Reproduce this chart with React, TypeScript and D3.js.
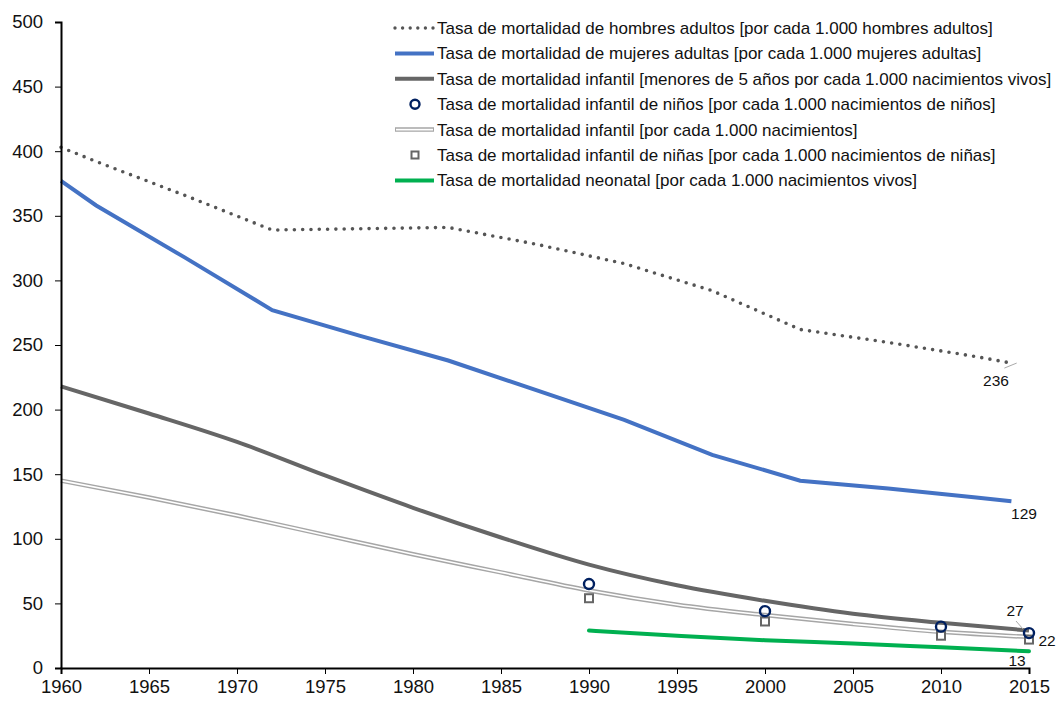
import React, { useEffect, useRef } from "react";
import * as d3 from "d3";

type Pt = [number, number];

const maleAdult: Pt[] = [[1960,403],[1962,392],[1967,366],[1972,339],[1977,340],[1982,341],[1987,328],[1992,313],[1997,292],[2002,262],[2007,252],[2012,241],[2014,236]];
const femaleAdult: Pt[] = [[1960,377],[1962,358],[1967,318],[1972,277],[1977,257],[1982,238],[1987,215],[1992,192],[1997,165],[2002,145],[2007,139],[2012,132],[2014,129]];
const underFive: Pt[] = [[1960,218],[1965,197],[1970,175],[1975,149],[1980,124],[1985,101],[1990,80],[1995,64],[2000,52],[2005,42],[2010,35],[2015,29]];
const infant: Pt[] = [[1960,145],[1965,132],[1970,118],[1975,103],[1980,88],[1985,74],[1990,60],[1995,49],[2000,41],[2005,34],[2010,28],[2015,24]];
const neonatal: Pt[] = [[1990,29],[1995,25],[2000,21.5],[2005,19],[2010,16],[2015,13]];
const boys: Pt[] = [[1990,65],[2000,44],[2010,32],[2015,27]];
const girls: Pt[] = [[1990,54],[2000,36],[2010,25],[2015,22]];

const xTicks = [1960,1965,1970,1975,1980,1985,1990,1995,2000,2005,2010,2015];
const yTicks = [0,50,100,150,200,250,300,350,400,450,500];

const legendLabels = [
  "Tasa de mortalidad de hombres adultos [por cada 1.000 hombres adultos]",
  "Tasa de mortalidad de mujeres adultas [por cada 1.000 mujeres adultas]",
  "Tasa de mortalidad infantil [menores de 5 años por cada 1.000 nacimientos vivos]",
  "Tasa de mortalidad infantil de niños [por cada 1.000 nacimientos de niños]",
  "Tasa de mortalidad infantil [por cada 1.000 nacimientos]",
  "Tasa de mortalidad infantil de niñas [por cada 1.000 nacimientos de niñas]",
  "Tasa de mortalidad neonatal [por cada 1.000 nacimientos vivos]",
];
const legendKinds = ["dotted","blue","grey","circle","double","square","green"];

const FONT = "'Liberation Sans', Arial, Helvetica, sans-serif";
const BLUE = "#4472C4";
const DARK = "#666666";
const GREEN = "#00B050";
const NAVY = "#002060";

export default function App() {
  const ref = useRef<SVGSVGElement>(null);
  const x = d3.scaleLinear().domain([1960, 2015]).range([61, 1029]);
  const y = d3.scaleLinear().domain([0, 500]).range([668, 22]);

  useEffect(() => {
    const svg = d3.select(ref.current);
    svg.select<SVGGElement>(".yaxis").call(
      d3.axisLeft(y).tickValues(yTicks).tickSize(6).tickPadding(12).tickFormat(d3.format("d")) as any
    );
    svg.select<SVGGElement>(".xaxis").call(
      d3.axisBottom(x).tickValues(xTicks).tickSize(6).tickPadding(6).tickFormat(d3.format("d")) as any
    );
    svg.selectAll(".axis path.domain").attr("stroke", "#000").attr("stroke-width", 2);
    svg.selectAll(".axis .tick line").attr("stroke", "#000").attr("stroke-width", 1);
    svg.selectAll(".axis .tick text").attr("font-family", FONT).attr("font-size", 18.5).attr("fill", "#111");
  }, []);

  const lineLin = d3.line<Pt>().x(d => x(d[0])).y(d => y(d[1]));
  const lineSm = d3.line<Pt>().x(d => x(d[0])).y(d => y(d[1])).curve(d3.curveMonotoneX);

  const legX0 = 395, legX1 = 434, legTextX = 437, legY0 = 28, legDy = 25.4, symX = 415;

  return (
    <svg ref={ref} width={1056} height={702} style={{ position: "absolute", left: 0, top: 0, background: "#fff" }}>
      <rect width={1056} height={702} fill="#fff" />
      {/* series */}
      <path d={lineSm(infant) || ""} fill="none" stroke="#a6a6a6" strokeWidth={4.5} />
      <path d={lineSm(infant) || ""} fill="none" stroke="#fff" strokeWidth={1.6} />
      <path d={lineSm(underFive) || ""} fill="none" stroke={DARK} strokeWidth={4} />
      <path d={lineSm(neonatal) || ""} fill="none" stroke={GREEN} strokeWidth={4} strokeLinecap="round" />
      <path d={lineLin(femaleAdult) || ""} fill="none" stroke={BLUE} strokeWidth={4} />
      <path d={lineLin(maleAdult) || ""} fill="none" stroke="#555" strokeWidth={3.6} strokeDasharray="0 8.3" strokeLinecap="round" />
      {girls.map((d, i) => (
        <rect key={"g" + i} x={x(d[0]) - 4} y={y(d[1]) - 4} width={8} height={8} fill="#fff" stroke="#666" strokeWidth={2} />
      ))}
      {boys.map((d, i) => (
        <circle key={"b" + i} cx={x(d[0])} cy={y(d[1])} r={5} fill="none" stroke={NAVY} strokeWidth={2.4} />
      ))}
      {/* axes */}
      <g className="axis yaxis" transform="translate(61,0)" />
      <g className="axis xaxis" transform="translate(0,668)" />
      {/* data labels */}
      <g fontFamily={FONT} fontSize={15.5} fill="#111" textAnchor="middle">
        <line x1={x(2013.6)} y1={y(236) + 5} x2={x(2014.3)} y2={y(236)} stroke="#aaa" strokeWidth={1} />
        <text x={996} y={386}>{maleAdult[maleAdult.length - 1][1]}</text>
        <text x={1024} y={519}>{femaleAdult[femaleAdult.length - 1][1]}</text>
        <line x1={1016} y1={621} x2={1023} y2={629} stroke="#aaa" strokeWidth={1} />
        <text x={1015} y={616}>{boys[boys.length - 1][1]}</text>
        <text x={1047} y={646}>{girls[girls.length - 1][1]}</text>
        <text x={1017} y={666}>{neonatal[neonatal.length - 1][1]}</text>
      </g>
      {/* legend */}
      <g fontFamily={FONT} fontSize={17} fill="#111">
        {legendLabels.map((lab, i) => {
          const cy = legY0 + i * legDy;
          const k = legendKinds[i];
          let sym: React.ReactNode = null;
          if (k === "dotted") sym = <line x1={legX0} x2={legX1} y1={cy} y2={cy} stroke="#555" strokeWidth={3.4} strokeDasharray="0 7.6" strokeLinecap="round" />;
          else if (k === "blue") sym = <line x1={legX0} x2={legX1} y1={cy} y2={cy} stroke={BLUE} strokeWidth={4} />;
          else if (k === "grey") sym = <line x1={legX0} x2={legX1} y1={cy} y2={cy} stroke={DARK} strokeWidth={4} />;
          else if (k === "green") sym = <line x1={legX0} x2={legX1} y1={cy} y2={cy} stroke={GREEN} strokeWidth={4} />;
          else if (k === "double") sym = <g><line x1={legX0} x2={legX1} y1={cy} y2={cy} stroke="#a6a6a6" strokeWidth={4.5} /><line x1={legX0 + 1} x2={legX1 - 1} y1={cy} y2={cy} stroke="#fff" strokeWidth={1.6} /></g>;
          else if (k === "circle") sym = <circle cx={symX} cy={cy} r={4.5} fill="none" stroke={NAVY} strokeWidth={2.4} />;
          else if (k === "square") sym = <rect x={symX - 3.5} y={cy - 3.5} width={7} height={7} fill="#fff" stroke="#666" strokeWidth={2} />;
          return (
            <g key={i}>
              {sym}
              <text x={legTextX} y={cy} dy="0.35em">{lab}</text>
            </g>
          );
        })}
      </g>
    </svg>
  );
}
